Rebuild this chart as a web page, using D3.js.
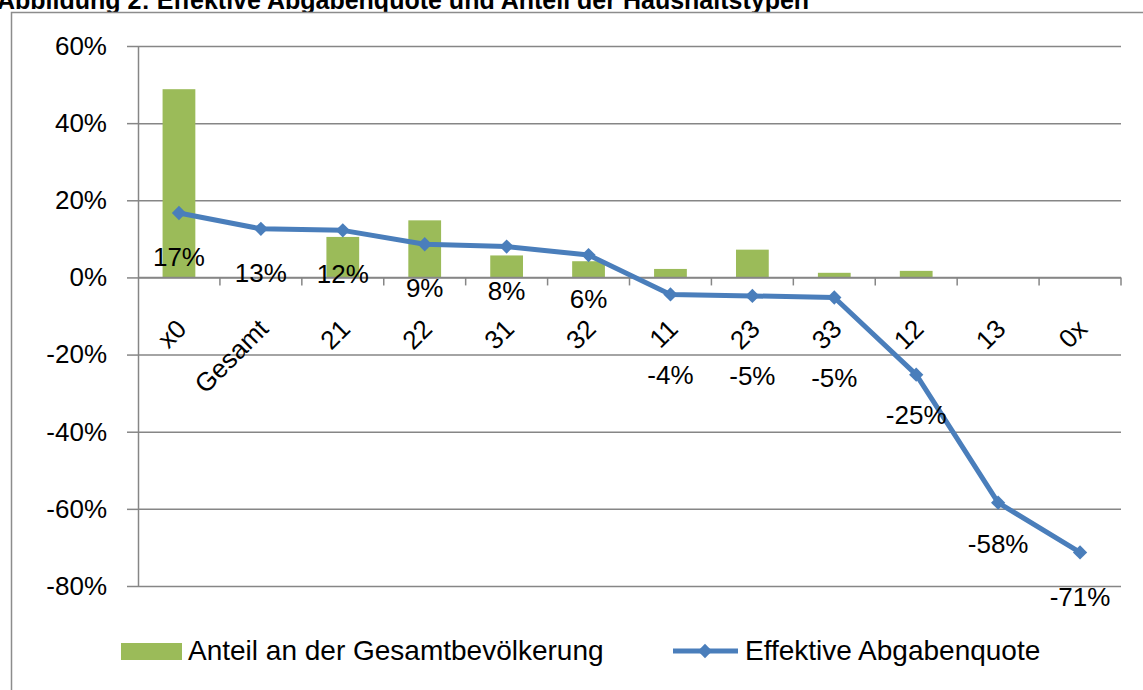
<!DOCTYPE html>
<html>
<head>
<meta charset="utf-8">
<script src="https://cdn.jsdelivr.net/npm/d3@7"></script>
<style>
  body { margin: 0; background: #fff; }
  svg text { font-family: "Liberation Sans", Arial, sans-serif; fill: #000; }
</style>
</head>
<body>
<script>
// chart data
const categories = ["x0", "Gesamt", "21", "22", "31", "32", "11", "23", "33", "12", "13", "0x"];
const anteil = [48.8, 0, 10.5, 14.8, 5.7, 4.2, 2.2, 7.2, 1.2, 1.7, 0, 0];           // Anteil an der Gesamtbevölkerung (%)
const abgabenquote = [16.7, 12.6, 12.2, 8.6, 8.0, 5.8, -4.4, -4.8, -5.2, -25.2, -58.4, -71.3]; // Effektive Abgabenquote (%)
const yTicks = [60, 40, 20, 0, -20, -40, -60, -80];
const seriesNames = ["Anteil an der Gesamtbevölkerung", "Effektive Abgabenquote"];
const titleText = "Abbildung 2: Effektive Abgabenquote und Anteil der Haushaltstypen";

// label offsets below the points (px), a few sit lower in the original
const labelDy = [44, 44, 44, 44, 44, 44, 80, 80, 80, 40, 41, 44];

const W = 1143, H = 690;
const plot = {left: 138, right: 1121, top: 46, bottom: 586};
const green = "#9bbb59", blue = "#4a7ebb", grid = "#868686";

// hyphen minus like the original instead of d3's unicode minus
const loc = d3.formatLocale({decimal: ".", thousands: ",", grouping: [3], currency: ["", ""], minus: "-", percent: "%"});
const pct = v => loc.format(".0%")(v / 100);

const svg = d3.select("body").append("svg")
  .attr("width", W)
  .attr("height", H);

// title (only its lower part is visible in the original)
svg.append("text")
  .attr("x", -3).attr("y", 9)
  .style("font-size", "25px").style("font-weight", "bold")
  .text(titleText);

// outer chart frame
svg.append("rect")
  .attr("x", 11.5).attr("y", 12.5)
  .attr("width", 1200).attr("height", 720)
  .attr("fill", "#fff").attr("stroke", "#8c8c8c").attr("stroke-width", 1.5);

const x = d3.scaleBand()
  .domain(categories)
  .range([plot.left, plot.right])
  .paddingInner(0.6)
  .paddingOuter(0.3);

const y = d3.scaleLinear()
  .domain([-80, 60])
  .range([plot.bottom, plot.top]);

const cx = c => x(c) + x.bandwidth() / 2;

// gridlines
svg.append("g")
  .attr("transform", `translate(${plot.left},0)`)
  .call(d3.axisLeft(y).tickValues(yTicks).tickSize(-(plot.right - plot.left)).tickFormat(""))
  .call(g => g.select(".domain").remove())
  .call(g => g.selectAll("line").attr("stroke", grid).attr("stroke-width", 1.5));

// y axis
svg.append("g")
  .attr("transform", `translate(${plot.left},0)`)
  .call(d3.axisLeft(y).tickValues(yTicks).tickSize(11).tickSizeOuter(0).tickPadding(20).tickFormat(d => pct(d)))
  .call(g => g.select(".domain").attr("stroke", grid).attr("stroke-width", 1.5))
  .call(g => g.selectAll("line").attr("stroke", grid).attr("stroke-width", 1.5))
  .call(g => g.selectAll("text").style("font-size", "26px").attr("fill", "#000"));

// bars
svg.append("g")
  .selectAll("rect")
  .data(categories)
  .join("rect")
  .attr("x", d => x(d))
  .attr("width", x.bandwidth())
  .attr("y", (d, i) => y(Math.max(0, anteil[i])))
  .attr("height", (d, i) => Math.abs(y(anteil[i]) - y(0)))
  .attr("fill", green);

// category axis at 0%
const y0 = y(0);
svg.append("line")
  .attr("x1", plot.left).attr("x2", plot.right)
  .attr("y1", y0).attr("y2", y0)
  .attr("stroke", grid).attr("stroke-width", 1.5);

svg.append("g")
  .selectAll("line")
  .data(d3.range(1, categories.length + 1))
  .join("line")
  .attr("x1", i => plot.left + i * x.step())
  .attr("x2", i => plot.left + i * x.step())
  .attr("y1", y0).attr("y2", y0 + 8)
  .attr("stroke", grid).attr("stroke-width", 1.5);

svg.append("g")
  .attr("transform", `translate(0,${y0})`)
  .call(d3.axisBottom(x).tickSize(0))
  .call(g => g.select(".domain").remove())
  .call(g => g.selectAll("text")
    .attr("x", null).attr("y", null).attr("dy", null)
    .attr("transform", "translate(9,53) rotate(-45)")
    .attr("text-anchor", "end")
    .style("font-size", "26px").attr("fill", "#000"));

// line series
const line = d3.line()
  .x((d, i) => cx(categories[i]))
  .y(d => y(d));

svg.append("path")
  .datum(abgabenquote)
  .attr("d", line)
  .attr("fill", "none")
  .attr("stroke", blue)
  .attr("stroke-width", 5)
  .attr("stroke-linejoin", "round");

const diamond = d3.symbol().type(d3.symbolDiamond2).size(130);
svg.append("g")
  .selectAll("path")
  .data(abgabenquote)
  .join("path")
  .attr("d", diamond)
  .attr("transform", (d, i) => `translate(${cx(categories[i])},${y(d)})`)
  .attr("fill", blue);

// data labels
svg.append("g")
  .selectAll("text")
  .data(abgabenquote)
  .join("text")
  .attr("x", (d, i) => cx(categories[i]))
  .attr("y", (d, i) => y(d) + labelDy[i])
  .attr("dy", "0.35em")
  .attr("text-anchor", "middle")
  .style("font-size", "26px")
  .text(d => pct(d));

// legend
const lg = svg.append("g");
lg.append("rect")
  .attr("x", 121).attr("y", 643)
  .attr("width", 61).attr("height", 17)
  .attr("fill", green);
lg.append("text")
  .attr("x", 188).attr("y", 660)
  .style("font-size", "28px")
  .text(seriesNames[0]);
lg.append("line")
  .attr("x1", 673).attr("x2", 738)
  .attr("y1", 651).attr("y2", 651)
  .attr("stroke", blue).attr("stroke-width", 5);
lg.append("path")
  .attr("d", diamond)
  .attr("transform", "translate(705,651)")
  .attr("fill", blue);
lg.append("text")
  .attr("x", 745).attr("y", 660)
  .style("font-size", "28px")
  .text(seriesNames[1]);
</script>
</body>
</html>
